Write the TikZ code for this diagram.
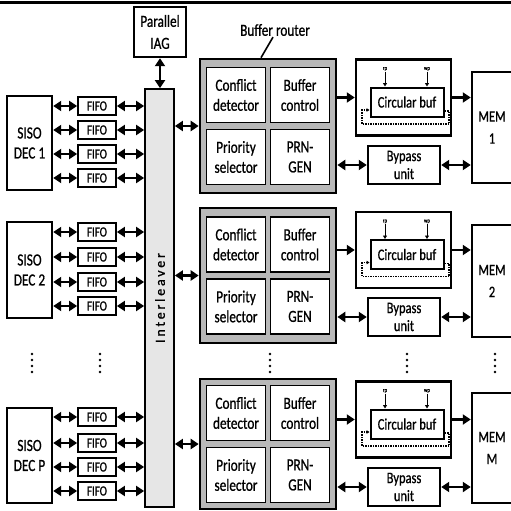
\documentclass[tikz,border=0pt]{standalone}
\usepackage{fontspec}
\setmainfont{Carlito}[FakeStretch=0.78,FakeBold=0.8]
\newfontfamily\ilfont{Carlito}[LetterSpace=20,FakeBold=1]
\usetikzlibrary{arrows.meta,calc}
\definecolor{routergray}{HTML}{B8B8B8}
\definecolor{ilgray}{HTML}{E6E6E6}
\newcommand\lblbig{\fontsize{17}{20}\selectfont}
\newcommand\lblmid{\fontsize{16}{18}\selectfont}
\begin{document}
\begin{tikzpicture}[x=1pt,y=-1pt,
  blk/.style={draw,line width=2.4pt,fill=white,inner sep=0pt,align=center,font=\lblbig},
  fifo/.style={draw,line width=1.8pt,fill=white,inner sep=0pt,minimum width=38,minimum height=18,font=\fontsize{14}{14}\selectfont},
  router/.style={draw,line width=2.6pt,fill=routergray,inner sep=0pt,minimum width=136},
  inbox/.style={draw,line width=1.8pt,fill=white,inner sep=0pt,minimum width=59,minimum height=55,align=center,font=\lblbig},
  dbl/.style={{Triangle[length=8pt,width=10pt]}-{Triangle[length=8pt,width=10pt]},line width=2.6pt},
  sgl/.style={-{Triangle[length=8pt,width=10pt]},line width=2.6pt},
  tinyarr/.style={-{Triangle[length=3.5pt,width=4pt]},line width=1pt},
  tinylbl/.style={inner sep=0.5pt,font=\fontsize{6}{6}\selectfont},
  loopline/.style={dash pattern=on 1.5pt off 1pt,line width=1.3pt,-{Triangle[length=3pt,width=3.5pt]}}
]
\useasboundingbox (0,0) rectangle (511,511);
\fill[white] (0,0) rectangle (511,511);
\draw[line width=2.5pt] (0,2.5) -- (511,2.5);

% Interleaver and IAG
\node[draw,line width=1.8pt,fill=ilgray,inner sep=0pt,minimum width=29,minimum height=418] (il) at (159.5,298) {};
\node[rotate=90,inner sep=0pt,font=\ilfont\fontsize{14}{14}\selectfont] (ilt) at (160,298) {Interleaver};
\node[blk,minimum width=52,minimum height=50,font=\fontsize{17}{22}\selectfont] (iag) at (160,32) {Parallel\\IAG};
\draw[dbl] (iag.south) -- (iag.south |- il.north);

% Left side: decoders and FIFOs
\foreach \i/\sy/\sh/\txt/\fa/\fb/\fc/\fd in {1/143/94/1/106/130/154/178, 2/270/96/2/232/257/282/306, 3/455.5/95/P/417/443/467/491} {
  \node[blk,minimum width=45,minimum height=\sh] (s\i) at (29.5,\sy) {SISO\\DEC \txt};
  \foreach \j/\fy in {1/\fa,2/\fb,3/\fc,4/\fd} {
    \node[fifo] (f\i\j) at (97,\fy) {FIFO};
    \draw[dbl] (s\i.east |- f\i\j.west) -- (f\i\j.west);
    \draw[dbl] (f\i\j.east) -- (f\i\j.east -| il.west);
  }
}

% Right side: routers, buffers, memories
\foreach \i/\ry/\rh/\cy/\my/\mh/\by/\mt in {1/126/134/97.5/127.5/111/165/1, 2/275.5/135/250/281/112/317/2, 3/444/130/419.5/448/110/487/M} {
  \node[router,minimum height=\rh] (r\i) at (268,\ry) {};
  \node[inbox] (cd\i) at ($(r\i.center)+(-32,-31)$) {Conflict\\detector};
  \node[inbox] (bc\i) at ($(r\i.center)+(32,-31)$) {Buffer\\control};
  \node[inbox] (ps\i) at ($(r\i.center)+(-32,31)$) {Priority\\selector};
  \node[inbox] (pg\i) at ($(r\i.center)+(32,31)$) {PRN-\\GEN};
  \node[blk,minimum width=95,minimum height=76] (cb\i) at (403.5,\cy) {};
  \node[blk,line width=2pt,minimum width=73,minimum height=29,font=\lblmid] (cbi\i) at ($(cb\i.center)+(3.5,4.5)$) {Circular buf};
  \node[tinylbl] (rp\i) at ($(cbi\i.north)+(-22,-17.5)$) {rp};
  \node[tinylbl] (wp\i) at ($(cbi\i.north)+(20,-17.5)$) {wp};
  \draw[tinyarr] (rp\i.south) -- (rp\i.south |- cbi\i.north);
  \draw[tinyarr] (wp\i.south) -- (wp\i.south |- cbi\i.north);
  \draw[loopline] ($(cbi\i.east)+(0,9)$) -- ++(4.5,0) -- ++(0,13) -- ++(-87,0) -- ++(0,-14) -- ($(cbi\i.west)+(0,8)$);
  \node[blk,minimum width=40,minimum height=\mh,font=\fontsize{16}{22}\selectfont] (m\i) at (492,\my) {MEM\\\mt};
  \node[blk,minimum width=72,minimum height=38,font=\lblmid] (bp\i) at (404,\by) {Bypass\\unit};
  \draw[dbl] (il.east |- r\i.west) -- (r\i.west);
  \draw[sgl] (r\i.east |- cb\i.west) -- (cb\i.west);
  \draw[sgl] (cb\i.east) -- (cb\i.east -| m\i.west);
  \draw[dbl] (r\i.east |- bp\i.west) -- (bp\i.west);
  \draw[dbl] (bp\i.east) -- (bp\i.east -| m\i.west);
}

% Buffer router label
\node[inner sep=1pt,font=\lblbig] (brl) at (275,30) {Buffer router};
\draw[line width=1.6pt] ($(brl.south)+(-2,0)$) -- ($(r1.north)+(-7,0)$);

% Ellipsis dots
\foreach \x in {32,100,270,407,495} {
  \foreach \y in {354,360,366,372} {
    \fill (\x,\y) circle (1.3);
  }
}
\end{tikzpicture}
\end{document}
